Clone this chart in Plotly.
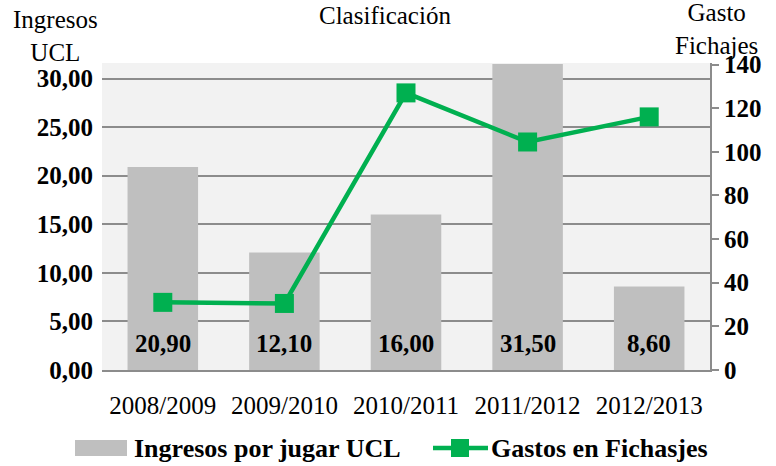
import plotly.graph_objects as go

categories = ["2008/2009", "2009/2010", "2010/2011", "2011/2012", "2012/2013"]
ingresos_ucl = [20.90, 12.10, 16.00, 31.50, 8.60]
gastos_fichajes = [31, 30.5, 127, 104.5, 116]
left_ticks = [0, 5, 10, 15, 20, 25, 30]
right_ticks = [0, 20, 40, 60, 80, 100, 120, 140]
series_names = ["Ingresos por jugar UCL", "Gastos en Fichasjes"]

FONT = "Liberation Serif"
BAR_COLOR = "#bfbfbf"
LINE_COLOR = "#00b050"
W, H = 776, 466
ML, MR, MT, MB = 102, 66, 63, 96
PW, PH = W - ML - MR, H - MT - MB


def px(x):
    return (x - ML) / PW


def py(y):
    return (H - MB - y) / PH


fig = go.Figure()
fig.add_trace(go.Bar(
    x=categories, y=ingresos_ucl, name=series_names[0],
    marker=dict(color=BAR_COLOR, line=dict(width=0)),
    cliponaxis=True,
))
fig.add_trace(go.Scatter(
    x=categories, y=gastos_fichajes, name=series_names[1], yaxis="y2",
    mode="lines+markers",
    line=dict(color=LINE_COLOR, width=4.5),
    marker=dict(symbol="square", size=19, color=LINE_COLOR),
))

# bar value labels near the base of each bar
bar_labels = [
    dict(text="<b>" + f"{v:.2f}".replace(".", ",") + "</b>", x=c, xref="x",
         y=0, yref="y", yanchor="middle", yshift=27, showarrow=False,
         font=dict(family=FONT, size=25))
    for c, v in zip(categories, ingresos_ucl)
]

# custom legend (symbols + labels)
shapes = [
    dict(type="rect", xref="paper", yref="paper", x0=px(75), x1=px(127),
         y0=py(456), y1=py(440), fillcolor=BAR_COLOR, line=dict(width=0)),
    dict(type="line", xref="paper", yref="paper", x0=px(433), x1=px(488),
         y0=py(448), y1=py(448), line=dict(color=LINE_COLOR, width=4.5)),
    dict(type="rect", xref="paper", yref="paper", x0=px(451), x1=px(469),
         y0=py(457), y1=py(439), fillcolor=LINE_COLOR, line=dict(width=0)),
]

fig.update_layout(
    width=W, height=H,
    margin=dict(l=ML, r=MR, t=MT, b=MB, autoexpand=False),
    paper_bgcolor="white", plot_bgcolor="#f2f2f2",
    bargap=0.42,
    font=dict(family=FONT, size=25, color="#000000"),
    showlegend=False,
    shapes=shapes,
    xaxis=dict(showline=True, linecolor="#8c8c8c", linewidth=2, ticks="",
               tickfont=dict(family=FONT, size=25), showgrid=False,
               ticklabelstandoff=12),
    yaxis=dict(range=[0, 31.6], tickvals=left_ticks,
               ticktext=[f"{t:.2f}".replace(".", ",") for t in left_ticks],
               showgrid=True, gridcolor="#8c8c8c", gridwidth=1.5,
               showline=False, ticks="", zeroline=False, ticklabelstandoff=8,
               tickfont=dict(family=FONT, size=25, weight="bold")),
    yaxis2=dict(range=[0, 140.7], tickvals=right_ticks, overlaying="y", side="right",
                showgrid=False, showline=True, linecolor="#8c8c8c", linewidth=2,
                ticks="outside", ticklen=7, tickcolor="#8c8c8c", tickwidth=1.5,
                zeroline=False,
                tickfont=dict(family=FONT, size=25, weight="bold")),
    annotations=bar_labels + [
        dict(text="Clasificación", x=px(385), xref="paper", y=py(0), yref="paper",
             xanchor="center", yanchor="top",
             showarrow=False, font=dict(family=FONT, size=25)),
        dict(text="Ingresos<br>UCL", x=px(55), xref="paper", y=py(36), yref="paper",
             xanchor="center", yanchor="middle",
             showarrow=False, font=dict(family=FONT, size=25)),
        dict(text="Gasto<br>Fichajes", x=px(716), xref="paper", y=py(29), yref="paper",
             xanchor="center", yanchor="middle",
             showarrow=False, font=dict(family=FONT, size=25)),
        dict(text="<b>" + series_names[0] + "</b>", x=px(132), xref="paper",
             y=py(448), yref="paper", xanchor="left", yanchor="middle",
             showarrow=False, font=dict(family=FONT, size=26)),
        dict(text="<b>" + series_names[1] + "</b>", x=px(489), xref="paper",
             y=py(448), yref="paper", xanchor="left", yanchor="middle",
             showarrow=False, font=dict(family=FONT, size=26)),
    ],
)

fig.write_html("out.html",
               config={"displayModeBar": False},
               post_script="document.body.style.margin='0';document.body.style.overflow='hidden';")
